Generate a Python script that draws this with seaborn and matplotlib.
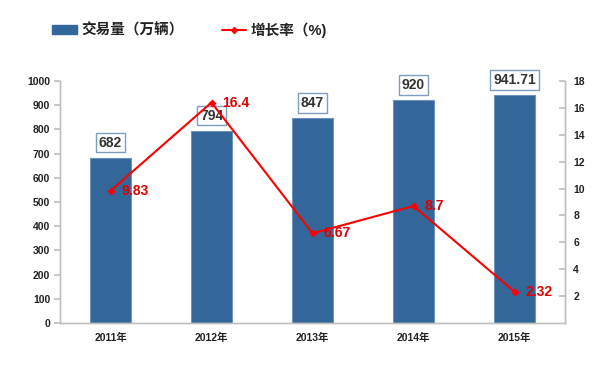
import matplotlib
matplotlib.use("Agg")
import matplotlib.pyplot as plt
import seaborn as sns
import pandas as pd
import numpy as np
from matplotlib.patches import Patch
from matplotlib.lines import Line2D

years = ["2011年", "2012年", "2013年", "2014年", "2015年"]
volume = [682, 794, 847, 920, 941.71]
volume_labels = ["682", "794", "847", "920", "941.71"]
growth = [9.83, 16.4, 6.67, 8.7, 2.32]
growth_labels = ["9.83", "16.4", "6.67", "8.7", "2.32"]

sns.set_theme(style="white")
plt.rcParams['font.family'] = ['Liberation Sans', 'Noto Sans CJK SC', 'DejaVu Sans']

df = pd.DataFrame({"year": years, "volume": volume, "growth": growth})

fig = plt.figure(figsize=(6.0, 3.67), dpi=100)
ax = fig.add_axes([0.1, 0.12, 0.8417, 0.6593])
bar_color = "#336699"
sns.barplot(data=df, x="year", y="volume", color=bar_color, width=0.4,
            edgecolor="#6E93BE", linewidth=0.8, saturation=1, ax=ax)
ax.set_ylim(0, 1000)
ax.set_xlim(-0.5, 4.5)
ax.set_yticks(np.arange(0, 1001, 100))
ax.set_xlabel("")
ax.set_ylabel("")

ax2 = ax.twinx()
sns.pointplot(data=df, x="year", y="growth", color="#FF0000", markers="D",
              markersize=3, linewidth=1.5, errorbar=None, ax=ax2)
ax2.set_ylim(0, 18)
ax2.set_xlim(-0.5, 4.5)
ax2.set_yticks(np.arange(2, 19, 2))
ax2.set_ylabel("")
ax2.set_xlabel("")

grey = "#BFBFBF"
for a in (ax, ax2):
    a.spines["top"].set_visible(False)
    for s in ("left", "right", "bottom"):
        a.spines[s].set_color(grey)
        a.spines[s].set_linewidth(1.0)
    a.grid(False)

ax.tick_params(axis="y", which="major", length=4, color=grey, direction="out",
               labelsize=7.5, labelcolor="#222222", pad=3)
for t in ax.get_yticklabels():
    t.set_fontweight("bold")
ax2.tick_params(axis="y", which="major", length=4, color=grey, direction="in",
                labelsize=7.5, labelcolor="#222222", pad=6)
for t in ax2.get_yticklabels():
    t.set_fontweight("bold")

ax.tick_params(axis="x", which="major", length=0, labelsize=7.5,
               labelcolor="#222222", pad=7)
for t in ax.get_xticklabels():
    t.set_fontweight("bold")
ax.set_xticks(np.arange(0.5, 4.5, 1.0), minor=True)
ax.tick_params(axis="x", which="minor", length=4, color=grey, direction="out")

# Value labels above bars
for i, (v, lab) in enumerate(zip(volume, volume_labels)):
    ax.annotate(lab, xy=(i, v), xytext=(0, 11), textcoords="offset points",
                ha="center", va="center", fontsize=10, fontweight="bold",
                color="#333333",
                bbox=dict(boxstyle="square,pad=0.2", facecolor="white",
                          edgecolor="#7F9DC0", linewidth=1.0), zorder=5)

# Growth labels
for i, (g, lab) in enumerate(zip(growth, growth_labels)):
    ax2.annotate(lab, xy=(i, g), xytext=(8, 0), textcoords="offset points",
                 ha="left", va="center", fontsize=10, fontweight="bold",
                 color="#E00000", zorder=6)

# Legend
handles = [Patch(facecolor=bar_color, edgecolor=bar_color),
           Line2D([0], [0], color="#FF0000", marker="D", markersize=3, linewidth=1.5)]
labels = ["交易量（万辆）", "增长率（%)"]
leg = fig.legend(handles, labels, loc="center left", bbox_to_anchor=(0.065, 0.918),
                 ncol=2, frameon=False, fontsize=10.5, handlelength=1.7,
                 handleheight=0.6, columnspacing=2.6, handletextpad=0.3)
for t in leg.get_texts():
    t.set_color("#222222")
    t.set_fontweight("bold")

fig.savefig("out.png", dpi=100)
